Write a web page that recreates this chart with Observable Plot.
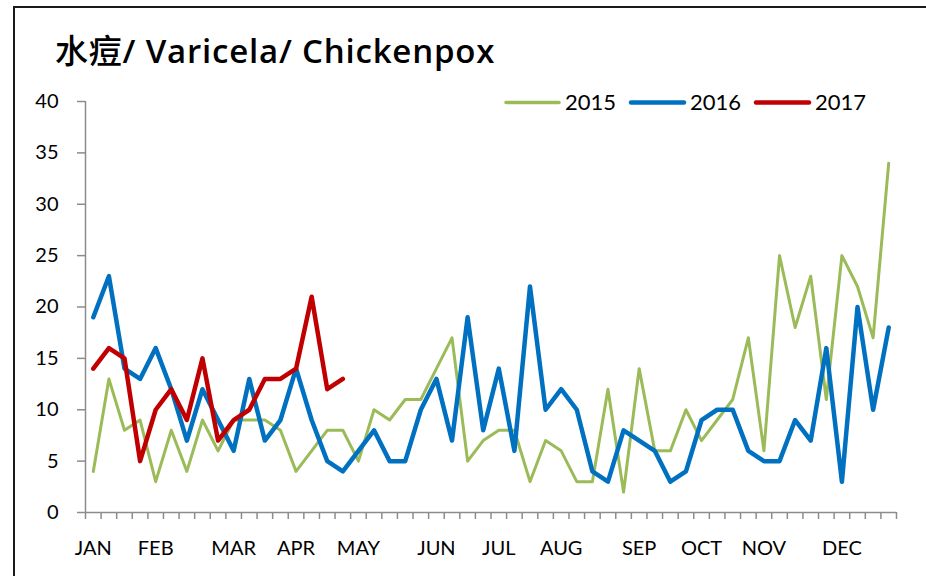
<!DOCTYPE html>
<html><head><meta charset="utf-8">
<script src="https://cdn.jsdelivr.net/npm/d3@7"></script>
<script src="https://cdn.jsdelivr.net/npm/@observablehq/plot@0.6"></script>
<style>
body{margin:0;background:#fff;}
#wrap{position:relative;width:926px;height:576px;overflow:hidden;background:#fff;}
#box{position:absolute;left:13px;top:6px;width:1000px;height:1000px;border:2px solid #1a1a1a;box-sizing:border-box;}
#chart,#over{position:absolute;left:0;top:0;}
</style>
</head><body>
<div id="wrap"><div id="box"></div><div id="chart"></div><svg id="over" width="926" height="576"></svg></div>
<script>
const titleCJK = "水痘";
const titleLatin = "/ Varicela/ Chickenpox";
const years = ["2015", "2016", "2017"];
const colors = ["#9BBB59", "#0070C0", "#C00000"];
const weeks = d3.range(1, 53);
const y2015 = [4,13,8,9,3,8,4,9,6,9,9,9,8,4,6,8,8,5,10,9,11,11,14,17,5,7,8,8,3,7,6,3,3,12,2,14,6,6,10,7,9,11,17,6,25,18,23,11,25,22,17,34];
const y2016 = [19,23,14,13,16,12,7,12,9,6,13,7,9,14,9,5,4,6,8,5,5,10,13,7,19,8,14,6,22,10,12,10,4,3,8,7,6,3,4,9,10,10,6,5,5,9,7,16,3,20,10,18];
const y2017 = [14,16,15,5,10,12,9,15,7,9,10,13,13,14,21,12,13];
const monthLabels = ["JAN","FEB","MAR","APR","MAY","JUN","JUL","AUG","SEP","OCT","NOV","DEC"];
const monthWeeks = [1,5,10,14,18,23,27,31,36,40,44,49];
const yTicks = [0,5,10,15,20,25,30,35,40];

const toRows = (vals, yr) => vals.map((v, i) => ({year: yr, week: weeks[i], value: v}));
const d2015 = toRows(y2015, years[0]);
const d2016 = toRows(y2016, years[1]);
const d2017 = toRows(y2017, years[2]);
const monthAt = new Map(monthWeeks.map((w, i) => [w - 0.5, monthLabels[i]]));

const chart = Plot.plot({
  width: 926, height: 576,
  marginLeft: 85, marginRight: 30, marginTop: 101, marginBottom: 64,
  x: {domain: [0, 52]},
  y: {domain: [0, 40]},
  style: {fontFamily: "Lato, sans-serif", fontSize: "20px", color: "#000", background: "transparent"},
  marks: [
    Plot.axisX({ticks: d3.range(0, 53), tickFormat: () => "", tickSize: 7, stroke: "#8c8c8c", strokeWidth: 1.5, label: null}),
    Plot.axisX({ticks: monthWeeks.map(w => w - 0.5), tickFormat: d => monthAt.get(d), tickSize: 0, tickPadding: 28, fontSize: 20, fill: "#000", label: null}),
    Plot.axisY({ticks: yTicks, tickSize: 8, tickPadding: 19, fontSize: 20, stroke: "#8c8c8c", strokeWidth: 1.5, fill: "#000", label: null}),
    Plot.ruleY([0], {stroke: "#8c8c8c", strokeWidth: 1.5}),
    Plot.ruleX([0], {stroke: "#8c8c8c", strokeWidth: 1.5}),
    Plot.line(d2015, {x: d => d.week - 0.5, y: "value", stroke: colors[0], strokeWidth: 3, strokeLinejoin: "round"}),
    Plot.line(d2016, {x: d => d.week - 0.5, y: "value", stroke: colors[1], strokeWidth: 4.5, strokeLinejoin: "round"}),
    Plot.line(d2017, {x: d => d.week - 0.5, y: "value", stroke: colors[2], strokeWidth: 4.5, strokeLinejoin: "round"})
  ]
});
document.getElementById("chart").append(chart);

const over = d3.select("#over");
const title = over.append("text").attr("x", 55).attr("y", 63)
  .attr("font-size", 33).attr("fill", "#000").attr("letter-spacing", 0.8);
title.append("tspan").attr("font-family", "'Noto Sans CJK TC', sans-serif").attr("font-weight", 500).text(titleCJK);
title.append("tspan").attr("font-family", "'Open Sans', sans-serif").attr("font-weight", 600).text(titleLatin);

const legX = [506, 631, 756];
const legW = [3.5, 4.5, 4.5];
years.forEach((yr, i) => {
  over.append("line").attr("x1", legX[i]).attr("x2", legX[i] + 53)
    .attr("y1", 102.5).attr("y2", 102.5)
    .attr("stroke", colors[i]).attr("stroke-width", legW[i]).attr("stroke-linecap", "round");
  over.append("text").attr("x", legX[i] + 59).attr("y", 110)
    .attr("font-family", "Lato, sans-serif").attr("font-size", 22).attr("fill", "#000")
    .text(yr);
});
</script>
</body></html>
